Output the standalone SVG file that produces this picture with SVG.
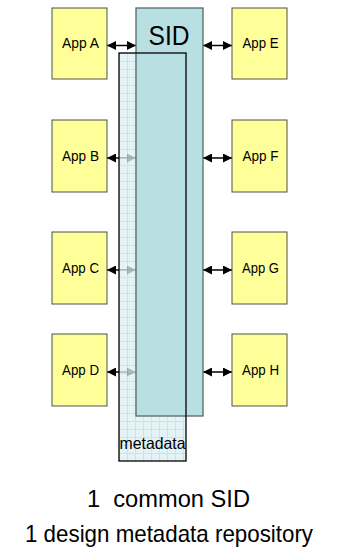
<svg xmlns="http://www.w3.org/2000/svg" width="337" height="550" viewBox="0 0 337 550">
  <style>
    .app rect { fill: #ffff99; stroke: #505050; stroke-width: 1; }
    .app text, .lbl { font-family: "Liberation Sans", Arial, sans-serif; fill: #000; }
    .app text { font-size: 14.5px; text-anchor: middle; }
    .conn { stroke: #000; stroke-width: 1.5; fill: none; marker-start: url(#head); marker-end: url(#head); }
  </style>
  <defs>
    <marker id="head" viewBox="0 0 10 10" refX="10" refY="5" markerWidth="6.5" markerHeight="6" markerUnits="strokeWidth" orient="auto-start-reverse">
      <path d="M0,0 L10,5 L0,10 Z" fill="#000"/>
    </marker>
    <pattern id="grid" width="8" height="8" patternUnits="userSpaceOnUse" x="119" y="53">
      <rect width="8" height="8" fill="#dcf0f3"/>
      <path d="M0,0.5 H8 M0.5,0 V8" stroke="#bcdce2" stroke-width="1"/>
    </pattern>
  </defs>

  <!-- connectors: apps to the shared stores -->
  <g id="connectors">
    <line class="conn" x1="107" y1="45.5" x2="136" y2="45.5"/>
    <line class="conn" x1="107" y1="158" x2="136" y2="158"/>
    <line class="conn" x1="107" y1="270" x2="136" y2="270"/>
    <line class="conn" x1="107" y1="372" x2="136" y2="372"/>
    <line class="conn" x1="203" y1="45.5" x2="232" y2="45.5"/>
    <line class="conn" x1="203" y1="158" x2="232" y2="158"/>
    <line class="conn" x1="203" y1="270" x2="232" y2="270"/>
    <line class="conn" x1="203" y1="372" x2="232" y2="372"/>
  </g>

  <!-- metadata repository (back layer, translucent grid) -->
  <g id="metadata">
    <rect x="119" y="53" width="67" height="408" fill="url(#grid)" opacity="0.78"/>
  </g>

  <!-- common SID -->
  <g id="sid">
    <rect x="136" y="8" width="67" height="408" fill="#b8e0e3" stroke="#56696b" stroke-width="1.3"/>
    <text class="lbl" x="169" y="45" font-size="28" text-anchor="middle" textLength="41" lengthAdjust="spacingAndGlyphs">SID</text>
  </g>

  <!-- metadata outline and label on top -->
  <g id="metadata-frame">
    <rect x="119" y="53" width="67" height="408" fill="none" stroke="#000" stroke-width="1.3"/>
    <text class="lbl" x="152.5" y="449" font-size="16.5" text-anchor="middle" textLength="66" lengthAdjust="spacingAndGlyphs">metadata</text>
  </g>

  <g id="app-a" class="app"><rect x="52" y="8" width="55" height="71"/><text x="80.5" y="48" textLength="37" lengthAdjust="spacingAndGlyphs">App A</text></g>
  <g id="app-b" class="app"><rect x="52" y="120" width="55" height="72"/><text x="80.5" y="161" textLength="37" lengthAdjust="spacingAndGlyphs">App B</text></g>
  <g id="app-c" class="app"><rect x="52" y="232" width="55" height="72"/><text x="80.5" y="273" textLength="37" lengthAdjust="spacingAndGlyphs">App C</text></g>
  <g id="app-d" class="app"><rect x="52" y="334" width="55" height="72"/><text x="80.5" y="375" textLength="37" lengthAdjust="spacingAndGlyphs">App D</text></g>
  <g id="app-e" class="app"><rect x="232" y="8" width="55" height="71"/><text x="260.5" y="48" textLength="36" lengthAdjust="spacingAndGlyphs">App E</text></g>
  <g id="app-f" class="app"><rect x="232" y="120" width="55" height="72"/><text x="260.5" y="161" textLength="36" lengthAdjust="spacingAndGlyphs">App F</text></g>
  <g id="app-g" class="app"><rect x="232" y="232" width="55" height="72"/><text x="260.5" y="273" textLength="37" lengthAdjust="spacingAndGlyphs">App G</text></g>
  <g id="app-h" class="app"><rect x="232" y="334" width="55" height="72"/><text x="260.5" y="375" textLength="37" lengthAdjust="spacingAndGlyphs">App H</text></g>

  <g id="caption">
    <text class="lbl" x="168.5" y="507" font-size="24" text-anchor="middle" xml:space="preserve" textLength="163" lengthAdjust="spacingAndGlyphs">1  common SID</text>
    <text class="lbl" x="169" y="542" font-size="24" text-anchor="middle" textLength="288" lengthAdjust="spacingAndGlyphs">1 design metadata repository</text>
  </g>
</svg>
